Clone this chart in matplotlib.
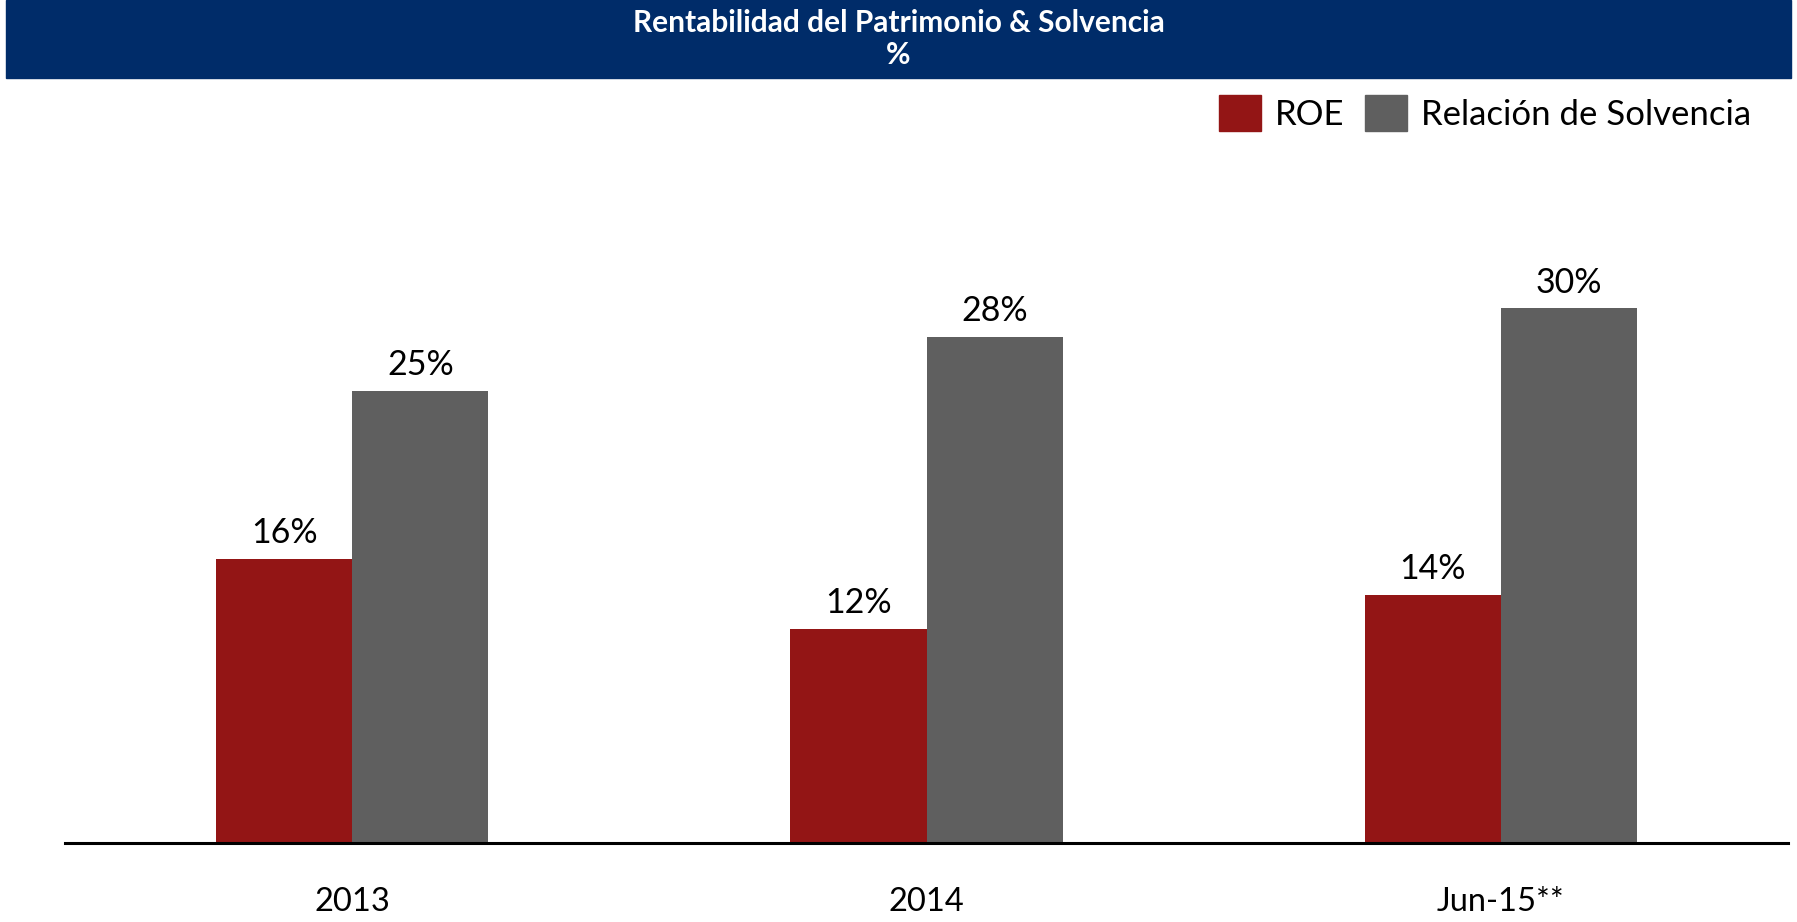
import numpy as np
import matplotlib.pyplot as plt
from matplotlib.patches import Rectangle, Patch

# Datos
categorias = ['2013', '2014', 'Jun-15**']
roe = [15.8, 11.9, 13.8]
solvencia = [25.1, 28.1, 29.7]
etiquetas_roe = ['16%', '12%', '14%']
etiquetas_solv = ['25%', '28%', '30%']

rojo = '#931515'
gris = '#5f5f5f'
azul = '#002c69'

plt.rcParams['font.family'] = ['Lato', 'DejaVu Sans']

fig = plt.figure(figsize=(17.97, 9.22), dpi=100)
ax = fig.add_axes([0.0362, 0.0857, 0.9588, 0.7516])

x = np.arange(len(categorias))
ancho = 0.237
b1 = ax.bar(x - ancho / 2, roe, ancho, color=rojo, label='ROE')
b2 = ax.bar(x + ancho / 2, solvencia, ancho, color=gris, label='Relación de Solvencia')

for barras, textos in [(b1, etiquetas_roe), (b2, etiquetas_solv)]:
    for b, t in zip(barras, textos):
        ax.annotate(t, (b.get_x() + b.get_width() / 2, b.get_height()),
                    xytext=(0, 7), textcoords='offset points',
                    ha='center', va='bottom', fontsize=24.5)

ax.set_xlim(-0.5, 2.5)
ax.set_ylim(0, 38.5)
ax.set_xticks(x)
ax.set_xticklabels(categorias, fontsize=23.5)
ax.set_yticks([])
ax.tick_params(axis='x', length=0, pad=32)
for s in ['top', 'right', 'left']:
    ax.spines[s].set_visible(False)
ax.spines['bottom'].set_linewidth(2.2)

# Encabezado
fig.patches.append(Rectangle((0.0033, 0.9154), 0.9933, 0.0846,
                             transform=fig.transFigure, color=azul, zorder=0))
fig.text(0.5, 0.975, 'Rentabilidad del Patrimonio & Solvencia', color='white',
         fontsize=21.5, fontweight='bold', ha='center', va='center')
fig.text(0.5, 0.94, '%', color='white', fontsize=21.5, fontweight='bold',
         ha='center', va='center')

# Leyenda
handles = [Patch(color=rojo), Patch(color=gris)]
fig.legend(handles, ['ROE', 'Relación de Solvencia'], loc='upper right',
           bbox_to_anchor=(0.982, 0.912), ncol=2, frameon=False, fontsize=25,
           handlelength=1.2, handleheight=1.2, handletextpad=0.4,
           columnspacing=0.6, borderaxespad=0)

fig.savefig('out.png', dpi=100)
